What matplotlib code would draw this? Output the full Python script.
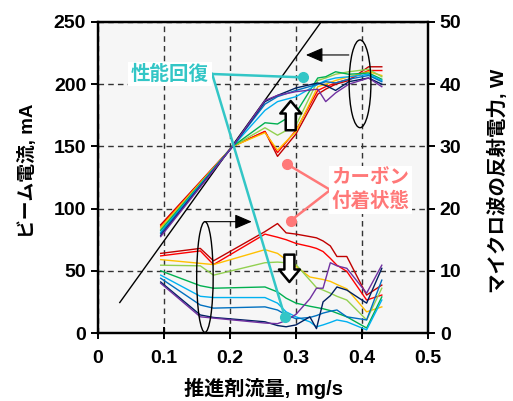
import matplotlib
matplotlib.use("Agg")
import matplotlib.pyplot as plt
from matplotlib.patches import Ellipse

plt.rcParams['font.family'] = ['Liberation Sans', 'Noto Sans CJK JP', 'DejaVu Sans']
plt.rcParams['font.weight'] = 'bold'

# ---- data ----
colors = ['#c00000', '#ff0000', '#ffc000', '#92d050', '#00b050',
          '#00b0f0', '#0070c0', '#002060', '#7030a0']

# beam current (left axis, mA)
ux = [0.095, 0.204, 0.253, 0.272, 0.300, 0.333, 0.345, 0.360, 0.380, 0.410, 0.430]
beam = [
    [87.0, 150, 162, 142, 160, 192, 196, 200, 203, 214, 214],
    [86.0, 150, 162, 145, 163, 195, 198, 201, 204, 211, 211],
    [85.0, 150, 161, 147, 162, 198, 200, 203, 206, 210, 207],
    [83.5, 150, 165, 159, 167, 203, 205, 208, 210, 212, 206],
    [82.5, 150, 169, 168, 177, 205, 206, 210, 208, 209, 204],
    [81.0, 150, 179, 186, 190, 200, 203, 205, 206, 208, 203],
    [80.0, 150, 184, 190, 195, 200, 202, 201, 204, 207, 202],
    [78.5, 150, 186, 191, 197, 201, 199, 195, 202, 205, 200],
    [77.5, 150, 187, 191, 194, 196, 186, 193, 200, 205, 198],
]

# reflected microwave power (right axis, W)
lx = [0.095, 0.155, 0.175, 0.253, 0.272, 0.285, 0.300, 0.321, 0.331, 0.341, 0.352, 0.362, 0.377, 0.407, 0.430]
refl = [
    [12.8, 13.6, 11.6, 16.3, 17.6, 16.1, 15.9, 15.5, 15.3, 14.8, 14.0, 12.3, 12.3, 6.1, 7.7],
    [12.4, 13.2, 11.0, 15.9, 15.4, 15.0, 14.4, 13.9, 13.6, 13.1, 12.0, 10.9, 9.9, 5.3, 6.1],
    [11.8, 11.2, 11.0, 13.4, 12.8, 11.8, 10.7, 9.0, 8.8, 8.6, 8.3, 7.8, 7.1, 3.4, 4.2],
    [10.9, 10.8, 9.3, 11.3, 11.4, 11.3, 11.0, 8.5, 7.3, 6.9, 6.4, 5.9, 5.3, 2.1, 7.2],
    [10.0, 7.6, 7.2, 7.4, 6.6, 5.6, 4.8, 4.3, 4.1, 3.9, 3.6, 3.2, 2.6, 0.8, 5.8],
    [9.3, 5.9, 5.7, 5.7, 4.8, 3.4, 2.6, 1.8, 1.0, 1.3, 1.7, 2.1, 1.8, 0.5, 5.3],
    [8.8, 4.5, 4.0, 4.2, 3.7, 2.9, 2.3, 2.5, 2.8, 3.2, 3.5, 3.7, 2.6, 2.1, 8.5],
    [8.2, 2.9, 2.5, 1.8, 1.2, 1.0, 1.3, 2.6, 0.7, 5.0, 6.0, 7.4, 6.9, 4.8, 10.4],
    [8.0, 2.6, 2.4, 1.6, 1.5, 2.0, 3.0, 5.5, 7.2, 7.2, 11.3, 10.8, 10.4, 6.4, 10.9],
]

# proportional reference line
ref_x = [0.033, 0.338]
ref_y = [24.5, 250]

xticks = [0, 0.1, 0.2, 0.3, 0.4, 0.5]
xticklabels = ['0', '0.1', '0.2', '0.3', '0.4', '0.5']
yticks = [0, 50, 100, 150, 200, 250]
y2ticks = [0, 10, 20, 30, 40, 50]

# ---- figure ----
fig = plt.figure(figsize=(5.13, 4.01), dpi=100)
ax = fig.add_axes([98/513, 68/401, 330/513, 311/401])
ax.set_facecolor('#f6f6f6')
ax2 = ax.twinx()

ax.set_xlim(0, 0.5)
ax.set_ylim(0, 250)
ax2.set_ylim(0, 50)

ax.set_xticks(xticks)
ax.set_xticklabels(xticklabels)
ax.set_yticks(yticks)
ax2.set_yticks(y2ticks)

for a in (ax, ax2):
    for s in a.spines.values():
        s.set_linewidth(1.6)
ax.tick_params(axis='both', labelsize=14, width=1.4, length=5)
ax.tick_params(axis='x', direction='inout', length=8, pad=8)
ax.tick_params(axis='y', direction='out')
ax2.tick_params(axis='y', labelsize=14, width=1.4, length=5, direction='out')

ax.grid(True, color='#333333', linestyle=(0, (4, 3)), linewidth=1.0)
ax.set_axisbelow(True)

ax.set_xlabel('推進剤流量, mg/s', fontsize=14.5, fontweight='bold')
ax.set_ylabel('ビーム電流, mA', fontsize=13.5, fontweight='bold')
ax2.set_ylabel('マイクロ波の反射電力, W', fontsize=14, fontweight='bold')
ax.xaxis.set_label_coords(0.5, -0.145)
ax.yaxis.set_label_coords(-0.185, 0.52)
ax2.yaxis.set_label_coords(1.18, 0.49)

ax.plot(ref_x, ref_y, color='black', lw=1.0, zorder=3)
for c, ys in zip(colors, beam):
    ax.plot(ux, ys, color=c, lw=1.0, zorder=4)
for c, ys in zip(colors, refl):
    ax2.plot(lx, ys, color=c, lw=1.0, zorder=4)

T = ax.transData

# ellipses with arrows
e1 = Ellipse((0.162, 45), 0.025, 89, fill=False, ec='black', lw=1.0, transform=T, zorder=6)
ax2.add_patch(e1)
ax2.annotate('', xy=(0.233, 89.5), xytext=(0.162, 89.5), xycoords=T, textcoords=T,
             arrowprops=dict(arrowstyle='-|>,head_length=0.7,head_width=0.3', color='black',
                             lw=0.8, mutation_scale=15, shrinkA=0, shrinkB=0), zorder=6)
e2 = Ellipse((0.397, 200.3), 0.033, 70.5, fill=False, ec='black', lw=1.0, transform=T, zorder=6)
ax2.add_patch(e2)
ax2.annotate('', xy=(0.315, 223.5), xytext=(0.380, 223.5), xycoords=T, textcoords=T,
             arrowprops=dict(arrowstyle='-|>,head_length=0.7,head_width=0.3', color='black',
                             lw=0.8, mutation_scale=15, shrinkA=0, shrinkB=0), zorder=6)

# hollow arrows
hollow = dict(arrowstyle='simple,head_length=0.6,head_width=1.0,tail_width=0.48',
              fc='white', ec='black', lw=1.8, mutation_scale=15, shrinkA=0, shrinkB=0)
ax2.annotate('', xy=(0.292, 186.5), xytext=(0.292, 163), xycoords=T, textcoords=T,
             arrowprops=hollow, zorder=7)
ax2.annotate('', xy=(0.290, 41), xytext=(0.290, 63), xycoords=T, textcoords=T,
             arrowprops=hollow, zorder=7)

# 性能回復 label
teal = '#33c6c6'
org1 = (0.173, 208.2)
for tgt in [(0.310, 205.5), (0.283, 13.1)]:
    ax2.plot([org1[0], tgt[0]], [org1[1] / 5, tgt[1] / 5], color=teal, lw=1.8, zorder=8)
    ax2.plot([tgt[0]], [tgt[1] / 5], 'o', color=teal, ms=7, zorder=8)
ax2.text(0.109, 208.2, '性能回復', transform=T, fontsize=14, fontweight='bold', color=teal,
         ha='center', va='center', zorder=9,
         bbox=dict(boxstyle='square,pad=0.15', fc='white', ec='none'))

# カーボン付着状態 label
pink = '#ff7878'
org2 = (0.352, 115)
for tgt in [(0.287, 135.6), (0.292, 90.3)]:
    ax2.plot([org2[0], tgt[0]], [org2[1] / 5, tgt[1] / 5], color=pink, lw=1.8, zorder=8)
    ax2.plot([tgt[0]], [tgt[1] / 5], 'o', color=pink, ms=7, zorder=8)
ax2.text(0.413, 115, 'カーボン\n付着状態', transform=T, fontsize=14, fontweight='bold', color=pink,
         ha='center', va='center', zorder=9, linespacing=1.3,
         bbox=dict(boxstyle='square,pad=0.15', fc='white', ec='none'))

fig.savefig('out.png', dpi=100)
